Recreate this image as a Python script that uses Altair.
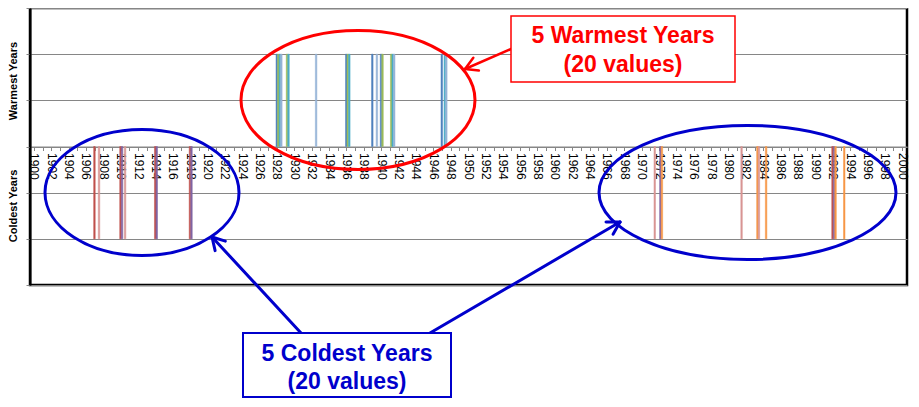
import math
import altair as alt
import pandas as pd

# ---------------- data ----------------
YEARS = list(range(1900, 2001))

WARM_NAMES = ["Warm A", "Warm B", "Warm C", "Warm D"]
WARM_COLORS = ["#4F81BD", "#9BBB59", "#4BACC6", "#95B3D7"]
WARM_A = [1928, 1936, 1939, 1940, 1947]
WARM_B = [1928, 1929, 1936, 1940, 1941]
WARM_C = [1928, 1929, 1936, 1941, 1947]
WARM_D = [1928, 1932, 1939, 1941, 1947]

COLD_NAMES = ["Cold A", "Cold B", "Cold C", "Cold D"]
COLD_COLORS = ["#C0504D", "#8064A2", "#F79646", "#D99694"]
COLD_A = [1907, 1910, 1914, 1918, 1992]
COLD_B = [1910, 1914, 1918, 1972, 1992]
COLD_C = [1972, 1983, 1984, 1992, 1993]
COLD_D = [1907, 1910, 1971, 1981, 1983]

WARM_VALUE = 2
COLD_VALUE = -2

rows = []
for i, (name, yrs) in enumerate(zip(WARM_NAMES, [WARM_A, WARM_B, WARM_C, WARM_D])):
    for y in yrs:
        rows.append({"year": y, "series": name, "slot": i + 1, "value": WARM_VALUE})
for i, (name, yrs) in enumerate(zip(COLD_NAMES, [COLD_A, COLD_B, COLD_C, COLD_D])):
    for y in yrs:
        rows.append({"year": y, "series": name, "slot": i + 1, "value": COLD_VALUE})
df = pd.DataFrame(rows)

W, H = 877, 277
FONT = "Liberation Sans"
GRID = "#868686"
RED = "#FF0000"
BLUE = "#0000CC"

color_scale = alt.Scale(domain=WARM_NAMES + COLD_NAMES, range=WARM_COLORS + COLD_COLORS)

bars = alt.Chart(df).mark_bar(strokeWidth=0.5).encode(
    x=alt.X("year:O",
            scale=alt.Scale(domain=YEARS, paddingInner=0, paddingOuter=0),
            axis=alt.Axis(title=None, offset=-H / 2, labelAngle=90,
                          labelExpr="datum.value % 2 == 0 ? datum.label : ''",
                          labelOverlap=False, labelFont=FONT, labelFontSize=12,
                          labelColor="black", labelPadding=2, tickSize=4,
                          tickColor=GRID, domainColor=GRID, grid=False)),
    xOffset=alt.XOffset("slot:O", scale=alt.Scale(domain=[1, 2, 3, 4], range=[2.9, 9.0],
                                                  paddingInner=0, paddingOuter=0)),
    y=alt.Y("value:Q", scale=alt.Scale(domain=[-3, 3], nice=False),
            axis=alt.Axis(title=None, values=[-3, -2, -1, 0, 1, 2, 3], labels=False,
                          grid=True, gridColor=GRID, gridWidth=1, tickSize=4,
                          tickColor=GRID, domainColor="black", domainWidth=2)),
    color=alt.Color("series:N", scale=color_scale, legend=None),
    stroke=alt.Stroke("series:N", scale=color_scale, legend=None),
)

one = alt.Data(values=[{"k": 0}])
layers = [bars]


def text(t, x, y, color, size, angle=0):
    return alt.Chart(one).mark_text(text=t, font=FONT, fontSize=size, fontWeight="bold",
                                    color=color, angle=angle, align="center",
                                    baseline="alphabetic" if angle == 0 else "middle").encode(
        x=alt.value(x), y=alt.value(y))


def ellipse(cx, cy, rx, ry, color):
    a = ry / rx
    path = f"M -1 0 A 1 {a:.4f} 0 1 1 1 0 A 1 {a:.4f} 0 1 1 -1 0 Z"
    return alt.Chart(one).mark_point(shape=path, size=(2 * rx) ** 2, filled=False,
                                     stroke=color, strokeWidth=3, opacity=1).encode(
        x=alt.value(cx), y=alt.value(cy))


def seg(x1, y1, x2, y2, color, w):
    return alt.Chart(one).mark_rule(color=color, strokeWidth=w, strokeCap="round").encode(
        x=alt.value(x1), y=alt.value(y1), x2=alt.value(x2), y2=alt.value(y2))


def arrow(x1, y1, x2, y2, color, w, length=14):
    out = [seg(x1, y1, x2, y2, color, w)]
    dx, dy = x1 - x2, y1 - y2
    n = math.hypot(dx, dy)
    ux, uy = dx / n, dy / n
    for s in (1, -1):
        c, sn = math.cos(math.radians(30)), s * math.sin(math.radians(30))
        wx, wy = ux * c - uy * sn, ux * sn + uy * c
        out.append(seg(x2, y2, x2 + wx * length, y2 + wy * length, color, w))
    return out


# axis titles
layers.append(text("Warmest Years", -16.5, 73, "black", 11, angle=270))
layers.append(text("Coldest Years", -16.5, 198, "black", 11, angle=270))

# ellipses
layers.append(ellipse(328, 92, 117, 69.5, RED))
layers.append(ellipse(112, 184.5, 97, 63, BLUE))
layers.append(ellipse(717.5, 184.5, 148.5, 67, BLUE))

# arrows
layers += arrow(481, 41, 435, 61, RED, 2.5)
layers += arrow(271, 325, 182, 229, BLUE, 3)
layers += arrow(400, 325, 590, 214, BLUE, 3)

# boxes
layers.append(alt.Chart(one).mark_rect(fill="white", stroke=RED, strokeWidth=1.5).encode(
    x=alt.value(481), x2=alt.value(705), y=alt.value(8), y2=alt.value(74)))
layers.append(text("5 Warmest Years", 593, 35, RED, 23))
layers.append(text("(20 values)", 593, 64, RED, 23))

layers.append(alt.Chart(one).mark_rect(fill="white", stroke=BLUE, strokeWidth=2).encode(
    x=alt.value(213), x2=alt.value(421), y=alt.value(325), y2=alt.value(389)))
layers.append(text("5 Coldest Years", 317, 353, BLUE, 23))
layers.append(text("(20 values)", 317, 381, BLUE, 23))

chart = alt.layer(*layers).properties(
    width=W, height=H,
    autosize=alt.AutoSizeParams(type="none"),
    padding={"left": 22, "top": 0, "right": 4, "bottom": 114},
    background="white",
).configure_view(stroke="black", strokeWidth=2.5)

chart.save("out.html", embed_options={"renderer": "svg", "actions": False})
